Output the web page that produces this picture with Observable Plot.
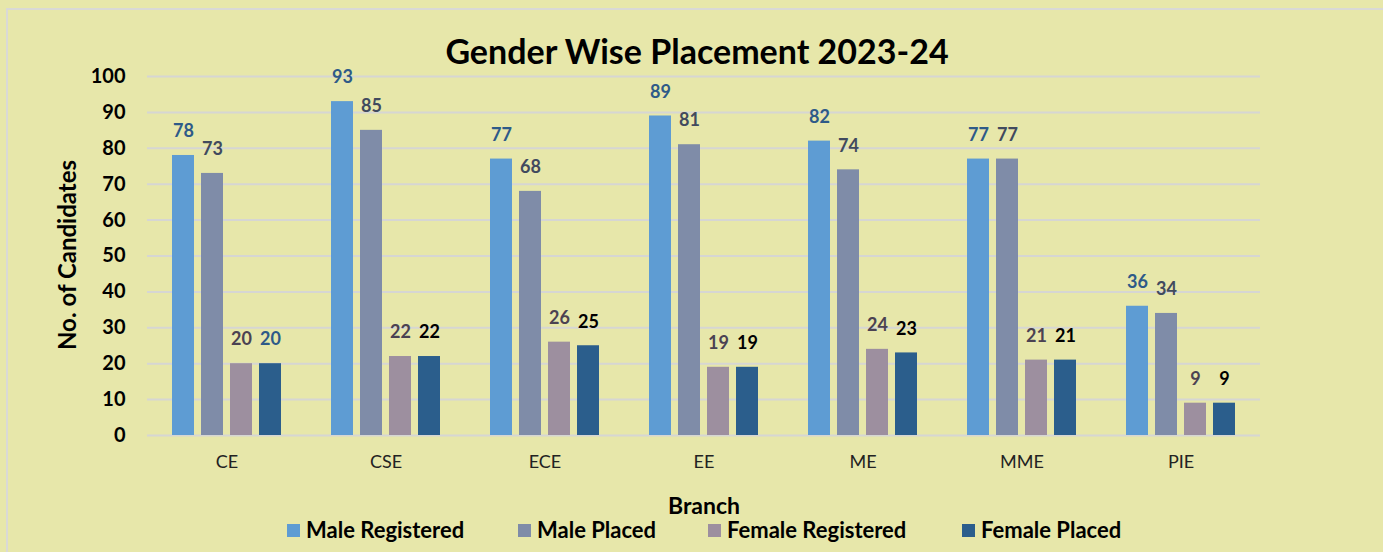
<!DOCTYPE html>
<html>
<head>
<meta charset="utf-8">
<script src="https://cdn.jsdelivr.net/npm/d3@7"></script>
<script src="https://cdn.jsdelivr.net/npm/@observablehq/plot@0.6"></script>
<style>
  html, body { margin: 0; padding: 0; }
  body { width: 1383px; height: 552px; overflow: hidden; background: #E7E7AA; font-family: Lato, "Open Sans", sans-serif; position: relative; }
  #frame { position: absolute; left: 6px; top: 8px; width: 1400px; height: 600px; border-left: 2px solid #D9D9D6; border-top: 2px solid #D9D9D6; }
  #chart { position: absolute; left: 0; top: 0; }
  #title { position: absolute; left: 0; width: 1394px; top: 31px; text-align: center; font-weight: 700; font-size: 34px; line-height: 40px; color: #000; }
  #ylabel { position: absolute; left: 66px; top: 255px; transform: translate(-50%, -50%) rotate(-90deg); white-space: nowrap; font-weight: 700; font-size: 24px; color: #000; }
  #xlabel { position: absolute; left: 0; width: 1408px; top: 491px; text-align: center; font-weight: 700; font-size: 23px; line-height: 28px; color: #000; }
  .item { position: absolute; top: 517px; display: flex; align-items: center; font-weight: 700; font-size: 22px; line-height: 26px; color: #000; white-space: nowrap; }
  .sw { width: 13px; height: 13px; margin-right: 6px; }
</style>
</head>
<body>
<div id="frame"></div>
<div id="chart"></div>
<div id="title">Gender Wise Placement 2023-24</div>
<div id="ylabel">No. of Candidates</div>
<div id="xlabel">Branch</div>
<div id="legend"></div>
<script>
const branches = ["CE", "CSE", "ECE", "EE", "ME", "MME", "PIE"];
const seriesNames = ["Male Registered", "Male Placed", "Female Registered", "Female Placed"];
const maleRegistered = [78, 93, 77, 89, 82, 77, 36];
const malePlaced = [73, 85, 68, 81, 74, 77, 34];
const femaleRegistered = [20, 22, 26, 19, 24, 21, 9];
const femalePlaced = [20, 22, 25, 19, 23, 21, 9];
const yTicks = [0, 10, 20, 30, 40, 50, 60, 70, 80, 90, 100];

const barColors = ["#5E9CD3", "#7F8CA8", "#9D8F9F", "#2B5E8C"];
const labelColors = ["#2E5A88", "#414A5E", "#4B4252", "#000000"];
const legendLeft = [287, 518, 708, 962];

const seriesValues = [maleRegistered, malePlaced, femaleRegistered, femalePlaced];
const data = [];
branches.forEach((b, i) => {
  seriesNames.forEach((s, j) => {
    data.push({branch: b, series: s, value: seriesValues[j][i], si: j});
  });
});

function labelColor(d) {
  if (d.series === "Female Placed" && d.branch === "CE") return labelColors[0];
  return labelColors[d.si];
}

const chart = Plot.plot({
  width: 1383,
  height: 552,
  marginLeft: 146,
  marginRight: 123,
  marginTop: 76,
  marginBottom: 117,
  style: {background: "transparent", fontFamily: "Lato, 'Open Sans', sans-serif", overflow: "visible"},
  fx: {domain: branches, padding: 0, label: null},
  x: {domain: seriesNames, paddingInner: 0.24, paddingOuter: 0.8, axis: null},
  y: {domain: [0, 100], label: null},
  color: {domain: seriesNames, range: barColors},
  marks: [
    Plot.gridY(yTicks, {stroke: "#D6D6D3", strokeOpacity: 1, strokeWidth: 2}),
    Plot.axisY(yTicks, {tickSize: 0, tickPadding: 22, fontSize: 20, fontWeight: "bold", fill: "#000", label: null}),
    Plot.axisFx({anchor: "bottom", tickSize: 0, tickPadding: 20, fontSize: 18, fill: "#222", label: null}),
    Plot.barY(data, {fx: "branch", x: "series", y: "value", fill: "series"}),
    Plot.text(data, {
      fx: "branch", x: "series", y: "value", text: d => String(d.value),
      dy: -24, fontSize: 18, fontWeight: "bold",
      fill: {value: labelColor, scale: null}
    })
  ]
});
document.getElementById("chart").appendChild(chart);

seriesNames.forEach((s, j) => {
  const item = document.createElement("div");
  item.className = "item";
  item.style.left = legendLeft[j] + "px";
  const sw = document.createElement("div");
  sw.className = "sw";
  sw.style.background = barColors[j];
  const t = document.createElement("span");
  t.textContent = s;
  item.appendChild(sw);
  item.appendChild(t);
  document.body.appendChild(item);
});
</script>
</body>
</html>
